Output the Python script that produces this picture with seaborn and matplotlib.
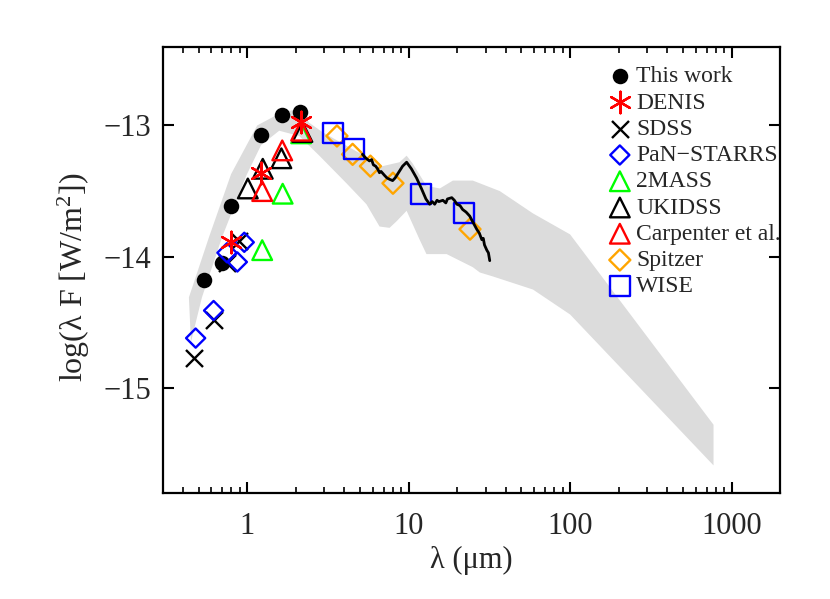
import matplotlib
matplotlib.use('Agg')
import matplotlib.pyplot as plt
import matplotlib.ticker as mticker
import seaborn as sns

# photometry: wavelength (micron), log(lambda F)
thiswork_wl = [0.54, 0.70, 0.80, 1.22, 1.65, 2.13]
thiswork_f = [-14.18, -14.05, -13.61, -13.07, -12.92, -12.90]

denis_wl = [0.79, 1.22, 2.15]
denis_f = [-13.89, -13.36, -12.97]

sdss_wl = [0.47, 0.62, 0.75, 0.89]
sdss_f = [-14.77, -14.48, -14.05, -13.88]

ps_wl = [0.48, 0.62, 0.75, 0.87, 0.96]
ps_f = [-14.62, -14.41, -13.97, -14.04, -13.89]

twomass_wl = [1.24, 1.66, 2.16]
twomass_f = [-13.95, -13.52, -13.06]

ukidss_wl = [1.01, 1.25, 1.63, 2.20]
ukidss_f = [-13.48, -13.33, -13.25, -13.05]

carp_wl = [1.24, 1.65, 2.16]
carp_f = [-13.50, -13.19, -13.04]

spitzer_wl = [3.6, 4.5, 5.8, 8.0, 24.0]
spitzer_f = [-13.08, -13.22, -13.31, -13.44, -13.79]

wise_wl = [3.4, 4.6, 12.0, 22.0]
wise_f = [-13.06, -13.18, -13.52, -13.67]

# IRS spectrum
spec_wl = [5.18, 5.45, 5.72, 5.90, 6.05, 6.25, 6.42, 6.60, 6.75, 7.09, 7.35, 7.62,
           7.96, 8.25, 8.55, 9.18, 9.72, 10.4, 11.2, 12.0, 12.8, 13.5, 14.0, 14.5,
           15.0, 15.4, 16.3, 17.0, 17.4, 18.5, 19.2, 19.9, 20.8, 21.6, 22.7, 23.9,
           25.1, 26.4, 27.4, 28.4, 29.0, 29.5, 30.5, 31.2, 31.8]
spec_f = [-13.22, -13.25, -13.27, -13.26, -13.30, -13.31, -13.33, -13.36, -13.35,
          -13.38, -13.40, -13.41, -13.42, -13.40, -13.37, -13.31, -13.28, -13.33,
          -13.40, -13.48, -13.56, -13.60, -13.58, -13.60, -13.57, -13.58, -13.57,
          -13.59, -13.56, -13.55, -13.57, -13.60, -13.61, -13.64, -13.66, -13.69,
          -13.74, -13.79, -13.82, -13.87, -13.86, -13.91, -13.95, -13.97, -14.03]

# model range (grey band) outline: upper edge then lower edge
band_wl = [0.436, 0.581, 0.796, 1.154, 1.58, 2.10, 2.43, 2.92, 4.96, 6.90, 8.79, 9.72,
           10.6, 12.9, 15.6, 18.8, 25.0, 36.7, 58.9, 100, 773,
           773, 100, 58.9, 33.2, 27.6, 25.0, 17.2, 12.9, 11.7, 9.72, 8.42, 7.62, 6.61,
           5.48, 4.12, 2.80, 2.10, 1.58, 1.22, 0.99, 0.70, 0.525, 0.449]
band_f = [-14.31, -13.85, -13.37, -13.00, -12.91, -12.87, -12.98, -13.05, -13.21,
          -13.31, -13.28, -13.23, -13.29, -13.46, -13.48, -13.42, -13.42, -13.50,
          -13.67, -13.83, -15.28,
          -15.59, -14.44, -14.25, -14.15, -14.12, -14.08, -13.98, -13.98, -13.87,
          -13.65, -13.73, -13.78, -13.77, -13.60, -13.44, -13.23, -13.08, -13.04,
          -13.15, -13.38, -13.85, -14.31, -14.65]

sns.set_theme(style='ticks')
plt.rcParams['font.family'] = ['Liberation Serif', 'DejaVu Serif']
plt.rcParams['mathtext.default'] = 'regular'
plt.rcParams['axes.unicode_minus'] = True

fig = plt.figure(figsize=(8.3, 5.99), dpi=100)
ax = fig.add_axes([0.196, 0.177, 0.744, 0.745])

ax.fill(band_wl, band_f, color='#dcdcdc', lw=0, zorder=1)

lw = 1.7
sns.scatterplot(x=thiswork_wl, y=thiswork_f, marker='o', s=125, color='black',
                edgecolor='black', linewidth=0, label='This work', ax=ax, zorder=3)
sns.scatterplot(x=denis_wl, y=denis_f, marker=(6, 2, 0), s=240, color='red',
                linewidth=lw, label='DENIS', ax=ax, zorder=4)
sns.scatterplot(x=sdss_wl, y=sdss_f, marker='x', s=150, color='black',
                linewidth=lw, label='SDSS', ax=ax, zorder=3)
sns.scatterplot(x=ps_wl, y=ps_f, marker='D', s=95, facecolor='none',
                edgecolor='blue', linewidth=lw, label='PaN\u2212STARRS', ax=ax, zorder=3)
sns.scatterplot(x=twomass_wl, y=twomass_f, marker='^', s=200, facecolor='none',
                edgecolor='#00ff00', linewidth=lw, label='2MASS', ax=ax, zorder=3)
sns.scatterplot(x=ukidss_wl, y=ukidss_f, marker='^', s=200, facecolor='none',
                edgecolor='black', linewidth=lw, label='UKIDSS', ax=ax, zorder=3)
sns.scatterplot(x=carp_wl, y=carp_f, marker='^', s=200, facecolor='none',
                edgecolor='red', linewidth=lw, label='Carpenter et al.', ax=ax, zorder=3)
sns.scatterplot(x=spitzer_wl, y=spitzer_f, marker='D', s=115, facecolor='none',
                edgecolor='orange', linewidth=lw, label='Spitzer', ax=ax, zorder=3)
sns.scatterplot(x=wise_wl, y=wise_f, marker='s', s=210, facecolor='none',
                edgecolor='blue', linewidth=lw, label='WISE', ax=ax, zorder=3)

sns.lineplot(x=spec_wl, y=spec_f, color='black', lw=2.0, sort=False,
             estimator=None, ax=ax, zorder=5, legend=False)

ax.set_xscale('log')
ax.set_xlim(0.3, 2000)
ax.set_ylim(-15.8, -12.4)
ax.xaxis.set_major_locator(mticker.FixedLocator([1, 10, 100, 1000]))
ax.xaxis.set_major_formatter(mticker.FixedFormatter(['1', '10', '100', '1000']))
ax.xaxis.set_minor_locator(mticker.LogLocator(base=10, subs=range(2, 10)))
ax.xaxis.set_minor_formatter(mticker.NullFormatter())
ax.yaxis.set_major_locator(mticker.FixedLocator([-15, -14, -13]))

ax.tick_params(which='both', direction='in', top=True, right=True,
               labelsize=22, color='black')
ax.tick_params(axis='x', which='both', pad=14)
ax.tick_params(axis='y', which='both', pad=8)
ax.tick_params(which='major', length=8, width=1.5)
ax.tick_params(which='minor', length=4, width=1.2)
for sp in ax.spines.values():
    sp.set_linewidth(1.6)
    sp.set_color('black')

ax.set_xlabel('\u03bb (\u03bcm)', fontsize=22, labelpad=3)
ax.set_ylabel('log(\u03bb F [W/m$^2$])', fontsize=23)
ax.yaxis.set_label_coords(-0.115, 0.484)

ax.legend(loc='upper left', bbox_to_anchor=(0.725, 0.957), frameon=False,
          fontsize=17, handlelength=0.8, handletextpad=0.3, borderpad=0,
          labelspacing=0.2, borderaxespad=0)

plt.savefig('out.png', dpi=100)
